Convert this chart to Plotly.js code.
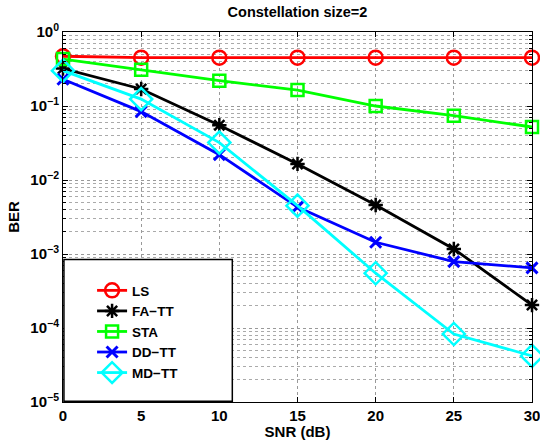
<!DOCTYPE html>
<html>
<head>
<meta charset="utf-8">
<script src="https://cdn.plot.ly/plotly-3.0.1.min.js"></script>
<style>body{margin:0;padding:0;background:#fff;}#chart{width:540px;height:440px;}</style>
</head>
<body>
<div id="chart"></div>
<script>
const snr = [0, 5, 10, 15, 20, 25, 30];
const berLS = [0.47, 0.45, 0.45, 0.45, 0.45, 0.45, 0.45];
const berFATT = [0.32, 0.17, 0.055, 0.0165, 0.0046, 0.00117, 0.000204];
const berSTA = [0.43, 0.31, 0.22, 0.164, 0.1, 0.074, 0.052];
const berDDTT = [0.23, 0.084, 0.022, 0.0043, 0.00144, 0.00079, 0.00065];
const berMDTT = [0.30, 0.124, 0.032, 0.0045, 0.00055, 0.000083, 0.000042];
const seriesNames = ['LS', 'FA\u2212TT', 'STA', 'DD\u2212TT', 'MD\u2212TT'];
const yTickVals = [1e-5, 1e-4, 1e-3, 1e-2, 1e-1, 1];
const yTickText = ['10<sup>\u22125</sup>', '10<sup>\u22124</sup>', '10<sup>\u22123</sup>', '10<sup>\u22122</sup>', '10<sup>\u22121</sup>', '10<sup>0</sup>'];

const FONT = 'Liberation Sans, Arial, Helvetica, sans-serif';

function tr(y, name, color, symbol, size, mlw) {
  return {
    x: snr, y: y, name: name, type: 'scatter', mode: 'lines+markers', cliponaxis: false,
    line: {color: color, width: 2.8},
    marker: {symbol: symbol, size: size, color: color, line: {color: color, width: mlw}}
  };
}

const data = [
  tr(berLS, seriesNames[0], '#ff0000', 'circle-open', 14, 2.5),
  tr(berFATT, seriesNames[1], '#000000', 'asterisk-open', 12, 2.5),
  tr(berSTA, seriesNames[2], '#00ff00', 'square-open', 12, 2.5),
  tr(berDDTT, seriesNames[3], '#0000ff', 'x-thin-open', 11, 3),
  tr(berMDTT, seriesNames[4], '#00ffff', 'diamond-open', 17, 2.5)
];

const layout = {
  width: 540, height: 440,
  margin: {l: 63, r: 8, t: 32, b: 38},
  paper_bgcolor: '#fff', plot_bgcolor: '#fff',
  font: {family: FONT, color: '#000', size: 14, weight: 'bold'},
  title: {text: 'Constellation size=2', font: {family: FONT, size: 14.5, weight: 'bold', color: '#000'}, xref: 'paper', x: 0.5, xanchor: 'center', y: 0.985, yanchor: 'top'},
  showlegend: true,
  legend: {
    x: 0.062, xanchor: 'left', y: 0.343, yanchor: 'top',
    bgcolor: 'rgba(0,0,0,0)', borderwidth: 0,
    font: {family: FONT, size: 13.5, weight: 'bold', color: '#000'},
    tracegroupgap: 0, itemwidth: 30
  },
  xaxis: {
    range: [0, 30], tickvals: snr, ticktext: snr.map(String), ticklabeloverflow: 'allow',
    showline: true, linecolor: '#000', linewidth: 1, mirror: 'ticks',
    ticks: 'inside', ticklen: 5, tickcolor: '#000',
    showgrid: true, gridcolor: '#999', griddash: 'dot', gridwidth: 1,
    zeroline: false,
    tickfont: {family: FONT, size: 15, weight: 'bold'},
    title: {text: 'SNR (dB)', font: {family: FONT, size: 15, weight: 'bold'}, standoff: 4}
  },
  yaxis: {
    type: 'log', range: [-5, 0], tickvals: yTickVals, ticktext: yTickText,
    showline: true, linecolor: '#000', linewidth: 1, mirror: 'ticks',
    ticks: 'inside', ticklen: 5, tickcolor: '#000',
    showgrid: true, gridcolor: '#999', griddash: 'dot', gridwidth: 1,
    minor: {dtick: 'D1', showgrid: true, gridcolor: '#aaa', griddash: 'dot', gridwidth: 1, ticks: 'inside', ticklen: 3, tickcolor: '#000'},
    zeroline: false,
    tickfont: {family: FONT, size: 15, weight: 'bold'},
    title: {text: 'BER', font: {family: FONT, size: 15, weight: 'bold'}, standoff: 7}
  },
  shapes: [{
    type: 'rect', xref: 'paper', yref: 'paper', layer: 'above',
    x0: 0.002, x1: 0.361, y0: 0.002, y1: 0.385,
    fillcolor: '#fff', line: {color: '#000', width: 1.5}
  }]
};

Plotly.newPlot('chart', data, layout, {staticPlot: true, displayModeBar: false});
</script>
</body>
</html>
